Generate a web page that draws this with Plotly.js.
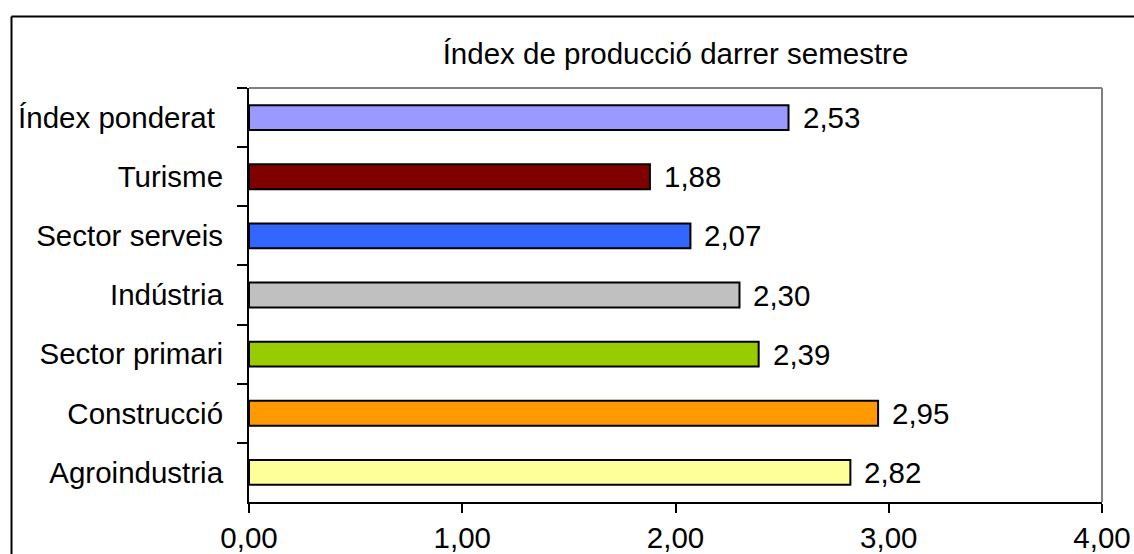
<!DOCTYPE html>
<html>
<head>
<meta charset="utf-8">
<script src="https://cdn.plot.ly/plotly-3.0.1.min.js"></script>
<style>html,body{margin:0;padding:0;background:#fff;}#chart{width:1134px;height:554px;}</style>
</head>
<body>
<div id="chart"></div>
<script>
const categories = ["Índex ponderat ", "Turisme", "Sector serveis", "Indústria", "Sector primari", "Construcció", "Agroindustria"];
const values = [2.53, 1.88, 2.07, 2.30, 2.39, 2.95, 2.82];
const barColors = ["#9999FF", "#800000", "#3366FF", "#C0C0C0", "#99CC00", "#FF9900", "#FFFF99"];
const xTicks = [0, 1, 2, 3, 4];
const titleText = "Índex de producció darrer semestre";

const fmt = v => v.toFixed(2).replace(".", ",");
const FONT = "Liberation Sans, Arial, sans-serif";
const FS = 29.5;

const W = 1134, H = 554;
const M = {l: 249, r: 32, t: 88, b: 52};
const pw = W - M.l - M.r, ph = H - M.t - M.b;
const px = x => (x - M.l) / pw;
const py = y => (H - M.b - y) / ph;

const trace = {
  type: "bar",
  orientation: "h",
  y: categories,
  x: values,
  width: 0.42,
  marker: {color: barColors, line: {color: "#000", width: 2}},
  hoverinfo: "none"
};

const annotations = categories.map((c, i) => ({
  x: values[i], y: c, xref: "x", yref: "y",
  text: fmt(values[i]), showarrow: false,
  xanchor: "left", yanchor: "middle", xshift: 12,
  font: {family: FONT, size: FS, color: "#000"}
}));

const layout = {
  width: W, height: H,
  margin: M,
  paper_bgcolor: "#fff", plot_bgcolor: "#fff",
  showlegend: false,
  title: {
    text: titleText,
    font: {family: FONT, size: FS, color: "#000"},
    x: 0.5, xref: "paper", xanchor: "center",
    y: 1 - 54 / H, yref: "container", yanchor: "middle"
  },
  xaxis: {
    range: [0, 4], tickvals: xTicks, ticktext: xTicks.map(fmt),
    showgrid: false, zeroline: false,
    showline: true, linecolor: "#000", linewidth: 2,
    ticks: "outside", ticklen: 9, tickwidth: 2, tickcolor: "#000",
    tickfont: {family: FONT, size: FS, color: "#000"}
  },
  yaxis: {
    type: "category", autorange: "reversed",
    showgrid: false, zeroline: false,
    showline: true, linecolor: "#000", linewidth: 2,
    ticks: "outside", ticklen: 10, tickwidth: 2, tickcolor: "#000",
    tickson: "boundaries",
    ticklabelstandoff: 18,
    tickfont: {family: FONT, size: FS, color: "#000"}
  },
  annotations: annotations,
  shapes: [
    {type: "line", xref: "paper", yref: "paper", x0: 0, x1: 1, y0: 1, y1: 1, line: {color: "#808080", width: 2}},
    {type: "line", xref: "paper", yref: "paper", x0: 1, x1: 1, y0: 0, y1: 1, line: {color: "#808080", width: 2}},
    {type: "line", xref: "paper", yref: "paper", x0: px(11.5), x1: px(1140), y0: py(16.5), y1: py(16.5), line: {color: "#000", width: 2}},
    {type: "line", xref: "paper", yref: "paper", x0: px(11.5), x1: px(11.5), y0: py(16.5), y1: py(560), line: {color: "#000", width: 2}}
  ],
  bargap: 0.58
};

Plotly.newPlot("chart", [trace], layout, {staticPlot: true, displayModeBar: false});
</script>
</body>
</html>
